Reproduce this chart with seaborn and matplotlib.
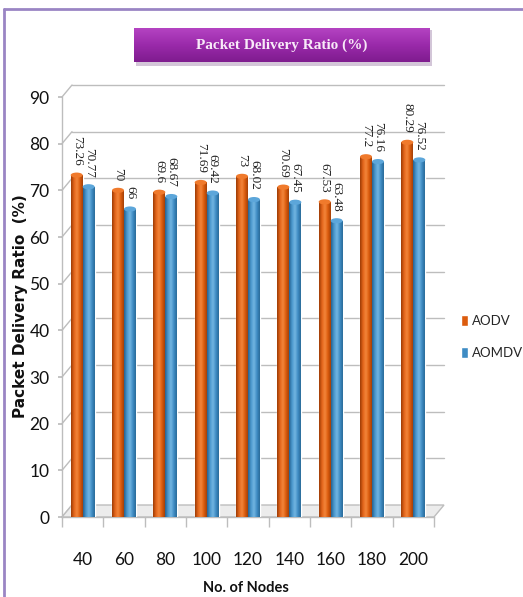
import numpy as np
import pandas as pd
import matplotlib
matplotlib.use("Agg")
import matplotlib.pyplot as plt
import seaborn as sns
from matplotlib.colors import LinearSegmentedColormap
from matplotlib.patches import Ellipse, Rectangle, Polygon
from matplotlib.lines import Line2D
from matplotlib.transforms import IdentityTransform

# Packet delivery ratio (%) by network size
nodes = ["40", "60", "80", "100", "120", "140", "160", "180", "200"]
aodv = [73.26, 70, 69.6, 71.69, 73, 70.69, 67.53, 77.2, 80.29]
aomdv = [70.77, 66, 68.67, 69.42, 68.02, 67.45, 63.48, 76.16, 76.52]
protocols = ["AODV", "AOMDV"]
y_ticks = [0, 10, 20, 30, 40, 50, 60, 70, 80, 90]

df = pd.DataFrame({
    "Nodes": nodes * 2,
    "PDR": aodv + aomdv,
    "Protocol": [protocols[0]] * len(nodes) + [protocols[1]] * len(nodes),
})

ORANGE = "#DC5C0D"
BLUE = "#3E8CC4"
GRID = "#BDBDBD"
NARROW = ["DejaVu Sans Condensed", "Liberation Sans Narrow", "Lato", "DejaVu Sans"]

sns.set_theme(style="white")
plt.rcParams["font.family"] = ["DejaVu Sans"]

W, H = 523, 597
DEPTH_X, DEPTH_Y = 10, 12   # pixel offset of the back wall (pseudo-3D)

fig = plt.figure(figsize=(W / 100, H / 100), dpi=100)
fig.patch.set_facecolor("white")

ax = fig.add_axes([62 / W, 1 - 517 / H, (434 - 62) / W, (517 - 97) / H])
sns.barplot(data=df, x="Nodes", y="PDR", hue="Protocol",
            palette=[ORANGE, BLUE], width=0.58, saturation=1,
            order=nodes, hue_order=protocols, ax=ax, legend=False,
            zorder=3)

xlim = (-0.5, len(nodes) - 0.5)
ylim = (0, 90)

# Cylinder-like shading on each bar
shades = {
    0: LinearSegmentedColormap.from_list("o", ["#9A3A05", "#E4651A", "#F3873C", "#DC5C0D", "#A24008"]),
    1: LinearSegmentedColormap.from_list("b", ["#25618E", "#4A98CE", "#74B6E2", "#3E8CC4", "#2A6A98"]),
}
caps = {0: "#F07A2C", 1: "#5CA6DA"}
grad = np.linspace(0, 1, 64).reshape(1, -1)
for ci, cont in enumerate(ax.containers):
    vals = aodv if ci == 0 else aomdv
    for bar, v in zip(cont.patches, vals):
        x0, w = bar.get_x(), bar.get_width()
        im = ax.imshow(grad, extent=[x0, x0 + w, 0, v], aspect="auto",
                       cmap=shades[ci], zorder=3.5, interpolation="bicubic")
        im.set_clip_path(bar)
        ax.add_patch(Ellipse((x0 + w / 2, v), w, 1.1, facecolor=caps[ci],
                             edgecolor="none", zorder=4))
        ax.text(x0 + w / 2, v + 2.0, f"{v:g}", rotation=270, ha="center",
                va="bottom", fontsize=9.5, family="Liberation Serif",
                color="#222222", zorder=5)
ax.set_xlim(*xlim)
ax.set_ylim(*ylim)

# Axes styling
ax.set_yticks(y_ticks)
ax.set_xticks(range(len(nodes)))
ax.set_xticklabels(nodes)
ax.set_xticks(np.arange(-0.5, len(nodes), 1.0), minor=True)
ax.grid(False)
for s in ["top", "right"]:
    ax.spines[s].set_visible(False)
for s in ["left", "bottom"]:
    ax.spines[s].set_color(GRID)
    ax.spines[s].set_linewidth(1.0)
ax.tick_params(axis="y", which="major", left=True, length=3, color=GRID,
               labelsize=12.5, pad=6, labelcolor="#111111")
ax.tick_params(axis="x", which="major", bottom=False, labelsize=12.5,
               pad=19, labelcolor="#111111")
ax.tick_params(axis="x", which="minor", bottom=True, length=7, color=GRID)
for lab in ax.get_xticklabels() + ax.get_yticklabels():
    lab.set_family(NARROW)
ax.set_xlabel("")
ax.set_ylabel("")

# Back wall gridlines, wall connectors and floor (pseudo-3D frame)
ytr = ax.get_yaxis_transform()
for t in y_ticks:
    (fx, fy), = ytr.transform([(0, t)])
    (rx, _), = ytr.transform([(1, t)])
    bx, by = fx + DEPTH_X, fy + DEPTH_Y
    ax.add_line(Line2D([fx, bx], [fy, by], transform=IdentityTransform(),
                       color=GRID, lw=1.0, zorder=1, clip_on=False))
    if t > 0:
        ax.add_line(Line2D([bx, rx + DEPTH_X], [by, by], transform=IdentityTransform(),
                           color=GRID, lw=1.0, zorder=1, clip_on=False))
(f0x, f0y), = ytr.transform([(0, 0)])
(f1x, _), = ytr.transform([(1, 0)])
floor = Polygon([(f0x, f0y), (f1x, f0y), (f1x + DEPTH_X, f0y + DEPTH_Y),
                 (f0x + DEPTH_X, f0y + DEPTH_Y)], closed=True,
                transform=IdentityTransform(), facecolor="#ECECEC",
                edgecolor=GRID, lw=1.0, zorder=2, clip_on=False)
ax.add_patch(floor)

fig.text(21 / W, 1 - 306 / H, "Packet Delivery Ratio  (%)", rotation=90,
         ha="center", va="center", fontsize=11, fontweight="bold",
         color="#111111")
fig.text(246 / W, 1 - 588 / H, "No. of Nodes", ha="center", va="center",
         fontsize=10.5, fontweight="bold", family=NARROW, color="#111111")

# Legend
handles = [Rectangle((0, 0), 1, 1, facecolor=ORANGE),
           Rectangle((0, 0), 1, 1, facecolor=BLUE)]
fig.legend(handles, protocols, loc="center left",
           bbox_to_anchor=(452 / W, 1 - 337 / H), frameon=False,
           handlelength=0.5, handleheight=0.9, handletextpad=0.3,
           labelspacing=1.5, borderpad=0.2,
           prop={"family": NARROW, "size": 9.5})

# Title banner
shadow = Rectangle((136 / W, 1 - 66 / H), 296 / W, 36 / H,
                   transform=fig.transFigure, facecolor="#D3C6D8",
                   edgecolor="none", zorder=-1)
fig.add_artist(shadow)
tax = fig.add_axes([134 / W, 1 - 62 / H, 296 / W, 34 / H])
tax.set_zorder(2)
tax.imshow(np.linspace(0, 1, 64).reshape(-1, 1), aspect="auto",
           cmap=LinearSegmentedColormap.from_list("p", ["#B443C2", "#9A2AAA", "#7F1C8F"]),
           extent=[0, 1, 0, 1])
tax.set_axis_off()
tax.text(0.5, 0.5, "Packet Delivery Ratio (%)", ha="center", va="center",
         fontsize=11, fontweight="bold", family=["Liberation Serif"],
         color="#F8EAF8", transform=tax.transAxes)

# Outer frame
fig.add_artist(Line2D([4 / W, 4 / W], [0, 1 - 9 / H], transform=fig.transFigure,
                      color="#9A85C4", linewidth=2))
fig.add_artist(Line2D([4 / W, 1], [1 - 9 / H, 1 - 9 / H], transform=fig.transFigure,
                      color="#9A85C4", linewidth=2))

fig.savefig("out.png", dpi=100)
